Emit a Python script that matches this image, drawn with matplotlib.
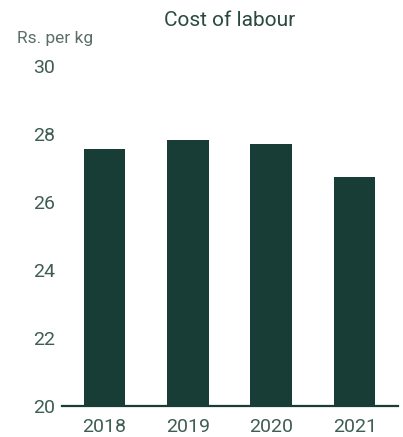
import matplotlib
matplotlib.use("Agg")
import matplotlib.pyplot as plt

years = ["2018", "2019", "2020", "2021"]
cost = [27.56, 27.82, 27.71, 26.74]
yticks = [20, 22, 24, 26, 28, 30]

bar_color = "#183d36"
text_color = "#3f5d54"

W, H = 403, 437
fig = plt.figure(figsize=(W/100, H/100), dpi=100)
ax = fig.add_axes([62/W, (H-406)/H, (398-62)/W, 340/H])
x = list(range(len(years)))
ax.bar(x, cost, width=0.5, color=bar_color, zorder=2)
ax.set_xlim(-0.51, 3.52)
ax.set_ylim(20, 30)
ax.set_xticks(x)
ax.set_xticklabels(years)
ax.set_yticks(yticks)
for s in ["left", "right", "top"]:
    ax.spines[s].set_visible(False)
ax.spines["bottom"].set_color(bar_color)
ax.spines["bottom"].set_linewidth(1.6)
ax.tick_params(axis="both", length=0, labelsize=14, colors=text_color, labelfontfamily="Roboto")
ax.tick_params(axis="x", pad=9)
ax.tick_params(axis="y", pad=5)
fig.text(230/W, 1-20/H, "Cost of labour", ha="center", va="center", fontsize=15, color="#2a4a40", family="Roboto")
fig.text(17/W, 1-39/H, "Rs. per kg", ha="left", va="center", fontsize=12.5, color="#5a6f68", family="Roboto")
fig.savefig("out.png", dpi=100)
